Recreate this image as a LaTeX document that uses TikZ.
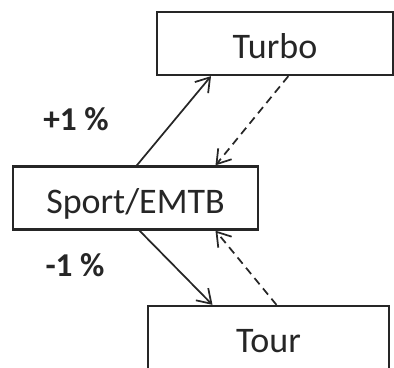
\documentclass[tikz,border=0pt]{standalone}
\usepackage{fontspec}
\setmainfont{Carlito}
\usetikzlibrary{arrows.meta,calc}

\tikzset{
    mode/.style={draw, line width=1.7pt, minimum height=47.25pt, inner sep=0pt,
        text height=23pt, text depth=0pt, font=\fontsize{27}{30}\selectfont},
    switch/.style={line width=1.3pt, -{Straight Barb[length=10pt,width=13pt]}},
    back/.style={switch, dash pattern=on 6pt off 4pt},
    rate/.style={font=\bfseries\fontsize{25}{28}\selectfont},
}

\begin{document}
\begin{tikzpicture}[x=0.75pt,y=-0.75pt, color=black!85]
    \useasboundingbox (0,0) rectangle (394,368);

    \node[mode, minimum width=177pt] (turbo) at (275,43.5) {Turbo};
    \node[mode, minimum width=183.75pt] (sport) at (135.5,198) {Sport/EMTB};
    \node[mode, minimum width=180.75pt] (tour) at (268.5,337.5) {Tour};

    \node[rate] (up) at (76,119) {+1 \%};
    \node[rate] (down) at (75,265) {-1 \%};

    \draw[switch] ([xshift=1pt]sport.north) -- ([xshift=-48pt]turbo.south);
    \draw[back] ([xshift=10pt]turbo.south) -- ([xshift=60pt]sport.north);
    \draw[switch] ([xshift=3pt]sport.south) -- ([xshift=-42pt]tour.north);
    \draw[back] ([xshift=6pt]tour.north) -- ([xshift=60pt]sport.south);
\end{tikzpicture}
\end{document}
